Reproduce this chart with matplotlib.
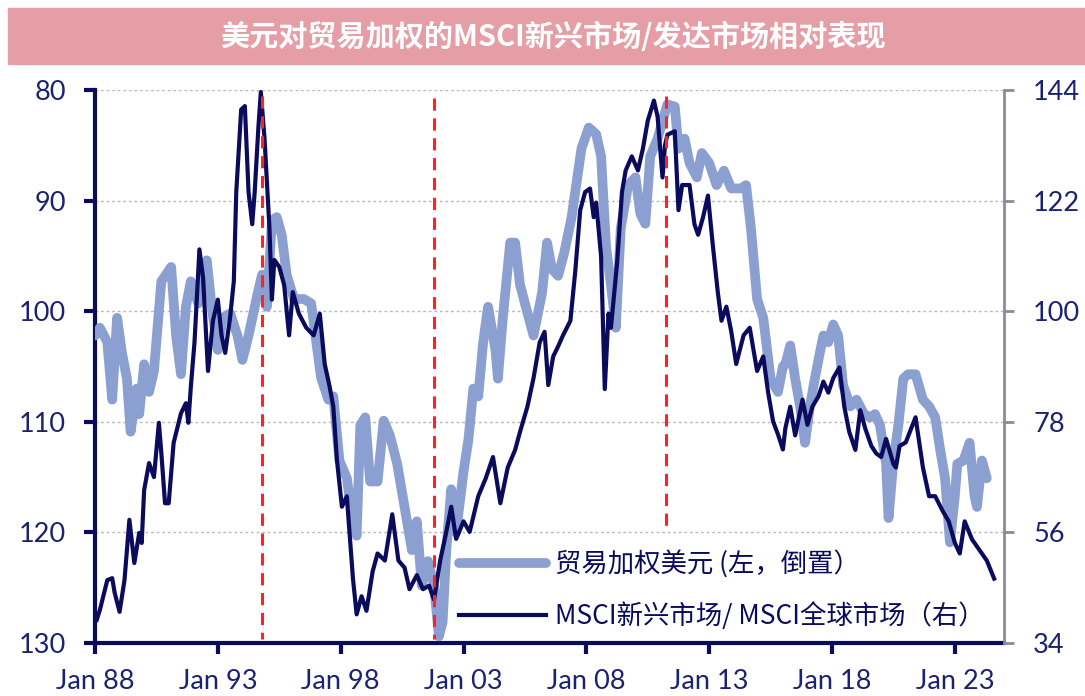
import matplotlib
matplotlib.use('Agg')
import matplotlib.pyplot as plt
from matplotlib.patches import Rectangle
from matplotlib.lines import Line2D

plt.rcParams['font.family'] = ['Noto Sans CJK SC', 'DejaVu Sans']

# trade weighted USD (left axis, inverted)
usd_t = [1988.0, 1988.2, 1988.5, 1988.7, 1988.9, 1989.1, 1989.3, 1989.45, 1989.7, 1989.8,
         1990.0, 1990.2, 1990.4, 1990.7, 1991.1, 1991.3, 1991.5, 1991.7, 1991.9, 1992.2,
         1992.55, 1992.75, 1993.0, 1993.2, 1993.5, 1993.8, 1994.0, 1994.25, 1994.6, 1994.8,
         1995.0, 1995.2, 1995.4, 1995.6, 1995.8, 1996.1, 1996.5, 1996.8, 1997.2, 1997.5,
         1997.7, 1997.95, 1998.25, 1998.5, 1998.65, 1998.8, 1999.0, 1999.2, 1999.5, 1999.75,
         2000.0, 2000.3, 2000.6, 2000.9, 2001.1, 2001.3, 2001.55, 2001.8, 2002.0, 2002.15,
         2002.3, 2002.5, 2002.7, 2003.0, 2003.2, 2003.4, 2003.6, 2003.8, 2004.0, 2004.3,
         2004.4, 2004.6, 2004.9, 2005.1, 2005.3, 2005.5, 2005.85, 2006.2, 2006.4, 2006.6,
         2006.85, 2007.1, 2007.4, 2007.8, 2008.1, 2008.4, 2008.6, 2008.8, 2009.0, 2009.2,
         2009.4, 2009.7, 2010.0, 2010.2, 2010.4, 2010.6, 2010.9, 2011.1, 2011.3, 2011.6,
         2011.75, 2012.0, 2012.2, 2012.5, 2012.7, 2013.0, 2013.3, 2013.6, 2013.9, 2014.3,
         2014.5, 2014.7, 2014.95, 2015.2, 2015.5, 2015.8, 2016.0, 2016.1, 2016.3, 2016.5,
         2016.7, 2016.9, 2017.1, 2017.3, 2017.5, 2017.65, 2017.85, 2018.05, 2018.25, 2018.45,
         2018.75, 2019.0, 2019.3, 2019.55, 2019.75, 2019.95, 2020.2, 2020.3, 2020.5, 2020.7,
         2020.9, 2021.1, 2021.4, 2021.7, 2021.95, 2022.2, 2022.4, 2022.6, 2022.8, 2023.0,
         2023.1, 2023.35, 2023.6, 2023.8, 2023.9, 2024.1, 2024.3]
usd_v = [102.2, 101.5, 102.8, 108.0, 100.6, 103.8, 106.1, 110.9, 107.0, 109.3,
         104.8, 107.3, 105.4, 97.3, 96.0, 102.2, 105.7, 99.6, 97.3, 99.3,
         95.4, 99.6, 103.5, 100.6, 100.2, 102.2, 104.4, 102.2, 98.6, 96.7,
         99.6, 91.8, 91.5, 93.1, 96.7, 98.9, 98.9, 99.3, 106.0, 108.0,
         107.7, 113.5, 115.1, 119.0, 120.3, 110.3, 109.6, 115.4, 115.4, 109.9,
         111.2, 113.8, 117.7, 121.6, 119.0, 124.8, 122.6, 124.8, 129.4, 128.1,
         121.6, 116.1, 120.0, 114.5, 111.6, 107.0, 107.7, 102.8, 99.6, 103.5,
         106.1, 100.6, 93.8, 93.8, 97.6, 99.3, 102.2, 98.3, 93.8, 96.2,
         96.8, 94.7, 91.5, 85.3, 83.4, 84.0, 86.0, 94.1, 97.6, 101.5,
         92.5, 88.6, 87.9, 91.2, 92.1, 86.0, 84.4, 82.8, 81.3, 81.5,
         85.3, 84.4, 86.6, 87.9, 85.7, 86.6, 88.6, 87.3, 88.9, 88.9,
         88.6, 92.5, 98.9, 100.6, 106.1, 107.3, 105.0, 104.8, 103.1, 106.1,
         108.6, 111.9, 108.6, 106.1, 103.8, 102.2, 102.8, 101.2, 102.2, 106.7,
         108.6, 108.0, 109.3, 109.6, 109.3, 110.3, 113.8, 118.7, 113.5, 110.3,
         106.1, 105.7, 105.7, 108.0, 108.6, 109.6, 112.5, 115.1, 120.9, 116.7,
         113.8, 113.5, 111.9, 116.7, 117.7, 113.5, 115.1]

# MSCI EM / MSCI World (right axis)
em_t = [1988.07, 1988.2, 1988.5, 1988.7, 1988.8, 1989.0, 1989.2, 1989.4, 1989.6, 1989.8,
        1989.9, 1990.0, 1990.2, 1990.4, 1990.6, 1990.7, 1990.85, 1991.0, 1991.2, 1991.5,
        1991.7, 1991.8, 1991.9, 1992.05, 1992.25, 1992.4, 1992.6, 1992.8, 1993.0, 1993.15,
        1993.3, 1993.5, 1993.65, 1993.75, 1993.95, 1994.1, 1994.25, 1994.4, 1994.5, 1994.65,
        1994.75, 1994.9, 1995.1, 1995.2, 1995.3, 1995.5, 1995.7, 1995.9, 1996.05, 1996.3,
        1996.6, 1996.9, 1997.15, 1997.35, 1997.55, 1997.7, 1997.85, 1998.05, 1998.25, 1998.5,
        1998.65, 1998.85, 1999.05, 1999.3, 1999.5, 1999.8, 2000.1, 2000.35, 2000.6, 2000.8,
        2001.1, 2001.35, 2001.6, 2001.8, 2002.05, 2002.3, 2002.5, 2002.7, 2003.0, 2003.25,
        2003.6, 2003.9, 2004.2, 2004.5, 2004.8, 2005.1, 2005.3, 2005.6, 2005.85, 2006.1,
        2006.3, 2006.45, 2006.65, 2006.85, 2007.05, 2007.35, 2007.55, 2007.75, 2007.95, 2008.15,
        2008.3, 2008.4, 2008.6, 2008.75, 2008.9, 2009.0, 2009.25, 2009.45, 2009.6, 2009.85,
        2010.1, 2010.3, 2010.5, 2010.75, 2010.9, 2011.1, 2011.2, 2011.3, 2011.6, 2011.75,
        2011.9, 2012.2, 2012.4, 2012.55, 2012.75, 2012.95, 2013.15, 2013.35, 2013.5, 2013.7,
        2013.9, 2014.1, 2014.4, 2014.65, 2014.95, 2015.2, 2015.4, 2015.6, 2015.8, 2016.0,
        2016.1, 2016.3, 2016.5, 2016.8, 2017.0, 2017.2, 2017.45, 2017.65, 2017.85, 2018.05,
        2018.3, 2018.5, 2018.7, 2018.95, 2019.15, 2019.35, 2019.6, 2019.8, 2020.0, 2020.2,
        2020.5, 2020.6, 2020.75, 2021.0, 2021.4, 2021.7, 2021.95, 2022.2, 2022.5, 2022.75,
        2023.0, 2023.2, 2023.4, 2023.7, 2024.0, 2024.3, 2024.6]
em_v = [38.6, 40.6, 46.5, 46.9, 44.0, 40.2, 46.5, 58.5, 49.9, 55.9,
        53.9, 64.4, 69.8, 67.0, 77.8, 71.8, 61.8, 61.8, 73.8, 79.7,
        81.7, 77.8, 84.9, 93.8, 112.3, 106.6, 88.1, 98.1, 102.3, 95.2,
        91.7, 98.8, 105.9, 123.7, 140.1, 140.8, 123.7, 117.3, 123.7, 136.5,
        143.6, 134.4, 116.6, 102.3, 110.2, 108.8, 105.2, 95.2, 103.8, 99.5,
        96.7, 95.2, 99.5, 89.5, 85.0, 81.0, 70.3, 61.1, 63.2, 46.8,
        39.7, 43.3, 40.4, 48.2, 51.8, 50.4, 59.6, 50.4, 49.0, 44.7,
        47.5, 44.7, 45.4, 42.6, 50.4, 56.1, 61.1, 54.7, 58.2, 56.1,
        63.2, 66.7, 71.0, 61.8, 68.9, 72.4, 76.0, 81.0, 86.7, 93.8,
        95.9, 85.3, 91.0, 93.0, 95.2, 98.1, 108.0, 120.1, 123.7, 124.4,
        118.7, 121.6, 110.9, 84.5, 99.5, 96.7, 109.5, 123.7, 128.0, 130.8,
        128.0, 132.3, 137.9, 141.9, 138.7, 126.6, 133.0, 135.1, 135.8, 120.1,
        125.1, 125.1, 117.3, 115.2, 118.7, 123.0, 113.0, 103.8, 98.1, 100.9,
        95.9, 89.5, 95.2, 96.7, 88.1, 91.0, 83.8, 78.1, 75.5, 72.5,
        76.7, 81.0, 75.3, 82.4, 77.4, 81.0, 83.1, 86.0, 83.8, 86.7,
        88.8, 81.0, 76.0, 72.4, 80.3, 76.7, 73.2, 71.7, 71.0, 74.6,
        69.6, 68.9, 73.2, 73.9, 78.9, 68.9, 63.2, 63.2, 60.3, 58.2,
        53.9, 51.8, 58.2, 54.6, 52.5, 50.4, 46.8]

event_dates = [1994.8, 2001.8, 2011.25]
event_top = [80.5, 80.7, 80.5]
event_bottom = [129.6, 129.6, 120.0]

xtick_pos = [1988, 1993, 1998, 2003, 2008, 2013, 2018, 2023]
xtick_lab = ['Jan 88', 'Jan 93', 'Jan 98', 'Jan 03', 'Jan 08', 'Jan 13', 'Jan 18', 'Jan 23']
left_ticks = [80, 90, 100, 110, 120, 130]
right_ticks = [34, 56, 78, 100, 122, 144]

title = '美元对贸易加权的MSCI新兴市场/发达市场相对表现'
label_usd = '贸易加权美元 (左，倒置）'
label_em = 'MSCI新兴市场/ MSCI全球市场（右）'

navy = '#0b0b5e'
light = '#8b9fd1'
tickc = '#1b2370'
red = '#ff2222'

fig = plt.figure(figsize=(10.85, 6.96), dpi=100)
ax = fig.add_axes([95/1085, 1-643/696, 909/1085, 553/696])

# title bar
fig.patches.append(Rectangle((8/1085, 1-64/696), 1077/1085, 56/696,
                             transform=fig.transFigure, color='#e59ea6', zorder=0))
fig.text(0.51, 1-37/696, title, color='white', fontsize=21, fontweight='bold',
         ha='center', va='center')

ax.plot(usd_t, usd_v, color=light, lw=7, solid_capstyle='round', solid_joinstyle='round', zorder=3)
ax.set_ylim(130, 80)
ax.set_yticks(left_ticks)
ax.set_xlim(1988, 2025)
ax.set_xticks(xtick_pos)
ax.set_xticklabels(xtick_lab)
ax.grid(axis='y', color='#b9b9c6', linestyle=(0, (2, 2)), lw=1)
ax.set_axisbelow(True)

ax2 = ax.twinx()
ax2.plot(em_t, em_v, color=navy, lw=3, zorder=3)
ax2.set_ylim(34, 144)
ax2.set_yticks(right_ticks)

# red dashed markers, in left-axis units
for d, t, b in zip(event_dates, event_top, event_bottom):
    ax2.plot([d, d], [144 - (t - 80) * 2.2, 144 - (b - 80) * 2.2], color=red,
             lw=2.2, linestyle=(0, (4, 2.5)), zorder=5)

for a in (ax, ax2):
    a.spines['top'].set_visible(False)
ax.spines['left'].set_color(navy)
ax.spines['left'].set_linewidth(3)
ax.spines['bottom'].set_color(navy)
ax.spines['bottom'].set_linewidth(3)
ax.spines['right'].set_visible(False)
ax2.spines['left'].set_visible(False)
ax2.spines['bottom'].set_visible(False)
ax2.spines['right'].set_color('#8a8c9c')
ax2.spines['right'].set_linewidth(2)

for lab in ax.get_xticklabels() + ax.get_yticklabels() + ax2.get_yticklabels():
    lab.set_fontfamily(['Lato', 'DejaVu Sans'])
ax.tick_params(axis='y', colors=navy, length=8, width=3, labelcolor=tickc, labelsize=19.5, pad=13)
ax.tick_params(axis='x', colors=navy, length=8, width=3, labelcolor=tickc, labelsize=19.5, pad=11)
ax2.tick_params(axis='y', colors='#8a8c9c', length=7, width=2, labelcolor=tickc, labelsize=19.5, pad=14)

handles = [Line2D([], [], color=light, lw=7, solid_capstyle='round'),
           Line2D([], [], color=navy, lw=3)]
leg = ax2.legend(handles, [label_usd, label_em], loc='upper left', bbox_to_anchor=(0.40, 0.168),
                 frameon=False, fontsize=19, handlelength=3.3, handletextpad=0.35,
                 labelspacing=0.92, borderaxespad=0, borderpad=0, labelcolor=navy)

fig.savefig('out.png', dpi=100)
